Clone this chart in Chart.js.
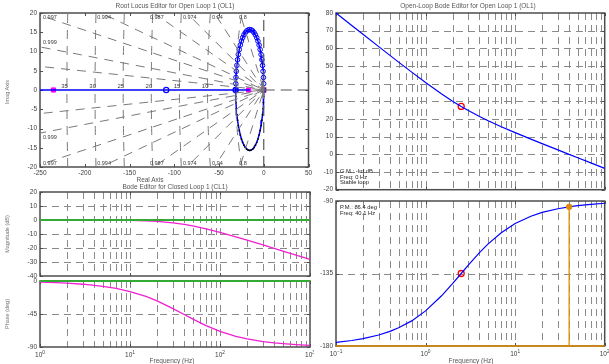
<!DOCTYPE html>
<html><head><meta charset="utf-8">
<script src="https://cdn.jsdelivr.net/npm/chart.js@4.4.1/dist/chart.umd.min.js"></script>
<style>
html,body{margin:0;padding:0;background:#fff;width:609px;height:364px;overflow:hidden;position:relative;}
canvas{position:absolute;}
.t{position:absolute;font-family:"Liberation Sans",Arial,sans-serif;font-size:6.5px;color:#555;white-space:nowrap;line-height:1;transform:translate(-50%,-50%);}
.l{position:absolute;font-family:"Liberation Sans",Arial,sans-serif;font-size:5.8px;color:#222;white-space:nowrap;line-height:1;transform:translate(0,-50%);}
.r{position:absolute;font-family:"Liberation Sans",Arial,sans-serif;font-size:5.5px;color:#777;white-space:nowrap;line-height:1;transform:translate(-50%,-50%) rotate(-90deg);}
</style></head><body>
<script>
// ---------- Root locus data ----------
const rlRealTicks = [-250,-200,-150,-100,-50,0,50];
const rlImagTicks = [-20,-15,-10,-5,0,5,10,15,20];
const dampingGrid = [0.9997,0.999,0.997,0.994,0.987,0.974,0.94,0.8];
const dampingLabels = [0.999,0.997,0.994,0.987,0.974,0.94,0.8];
const dampingShort = [0.1,0.2,0.3,0.4,0.5,0.6,0.7];
const natFreqHz = [5,10,15,20,25,30,35];
const natFreqLabels = [10,15,20,25,30,35];
const locusRe = [0,-0.09,-0.34,-0.77,-1.36,-2.10,-3.00,-4.03,-5.20,-6.47,-7.85,-9.32,-10.85,-12.44,-14.06,-15.70,-17.34,-18.96,-20.55,-22.09,-23.55,-24.93,-26.21,-27.37,-28.40,-29.30,-30.04,-30.63,-31.06,-31.31,-31.40];
const locusImUp = [0,1.64,3.26,4.85,6.39,7.85,9.23,10.50,11.67,12.70,13.60,14.34,14.93,15.36,15.61,15.70,15.61,15.36,14.93,14.34,13.60,12.70,11.67,10.50,9.23,7.85,6.39,4.85,3.26,1.64,0];
const locusImLow = [0,-1.64,-3.26,-4.85,-6.39,-7.85,-9.23,-10.50,-11.67,-12.70,-13.60,-14.34,-14.93,-15.36,-15.61,-15.70,-15.61,-15.36,-14.93,-14.34,-13.60,-12.70,-11.67,-10.50,-9.23,-7.85,-6.39,-4.85,-3.26,-1.64,0];
const locusRealRe = [-260,-31.4,-15.7];
const clPoleRe = [-235,-16.8];
const olPoleRe = [0];
const compZeroRe = [-109,-31.4];

// ---------- Closed-loop Bode data ----------
const clFreq = [1,1.5,2,3,4,5,7,10,15,20,30,40,50,70,100,150,200,300,400,500,700,1000];
const clMag = [0,-0.01,-0.01,-0.03,-0.05,-0.07,-0.14,-0.28,-0.60,-1.01,-2.02,-3.12,-4.22,-6.26,-8.79,-11.99,-14.36,-17.80,-20.26,-22.18,-25.10,-28.20];
const clPhase = [-1.5,-2.2,-2.9,-4.4,-5.9,-7.3,-10.2,-14.4,-21.0,-27.2,-37.6,-45.7,-52.0,-60.9,-68.7,-75.4,-79.0,-82.6,-84.4,-85.5,-86.8,-87.8];
const clRefFreq = [1,1000];
const clRefMag = [0,0];
const clRefPhase = [0,0];
const clMagTicks = [-40,-30,-20,-10,0,10,20];
const clPhaseTicks = [-90,-45,0];
const clDecades = [1,10,100,1000];

// ---------- Open-loop Bode data ----------
const olFreq = [0.1,0.15,0.2,0.3,0.4,0.5,0.7,1,1.5,2,2.5,3,4,5,7,10,15,20,30,40,50,70,100];
const olMag = [80.0,72.97,67.99,60.98,56.03,52.21,46.53,40.64,34.30,30.11,27.09,24.79,21.43,19.03,15.66,12.30,8.64,6.09,2.53,0.02,-1.93,-4.85,-7.96];
const olPhase = [-177.7,-176.6,-175.4,-173.2,-170.9,-168.7,-164.4,-158.2,-149.0,-141.3,-135.0,-129.8,-122.0,-116.6,-109.7,-104.0,-99.5,-97.1,-94.8,-93.6,-92.9,-92.1,-91.4];
const zeroMarkFreq = [2.5];
const zeroMarkMag = [27.1];
const zeroMarkPhase = [-135];
const pmFreq = [40.1,40.1];
const pmPhase = [-180,-93.6];
const pmBaseFreq = [0.1,100];
const pmBasePhase = [-180,-180];
const olMagTicks = [-20,-10,0,10,20,30,40,50,60,70,80];
const olPhaseTicks = [-180,-135,-90];
const olDecades = [0.1,1,10,100];

// ---------- helpers ----------
const FONT = '"Liberation Sans", Arial, sans-serif';
const pts = (xs, ys) => xs.map((x, i) => ({x, y: ys[i]}));
const logGrid = decs => { const out = []; for (let i = 0; i < decs.length - 1; i++) for (let k = 1; k < 10; k++) out.push(decs[i] * k); out.push(decs[decs.length - 1]); return out; };

function deco(o) {
  return {
    id: 'deco',
    beforeDatasetsDraw(chart) {
      const {ctx, chartArea: a, scales: {x, y}} = chart;
      ctx.save();
      ctx.strokeStyle = '#8a8a8a'; ctx.lineWidth = 1; ctx.setLineDash(o.dash || [7, 5]);
      (o.vx || []).forEach(v => {
        const px = Math.round(x.getPixelForValue(v)) + 0.5;
        if (px <= a.left + 1 || px >= a.right - 1) return;
        ctx.beginPath(); ctx.moveTo(px, a.top); ctx.lineTo(px, a.bottom); ctx.stroke();
      });
      (o.hy || []).forEach(v => {
        const py = Math.round(y.getPixelForValue(v)) + 0.5;
        if (py <= a.top + 1 || py >= a.bottom - 1) return;
        ctx.beginPath(); ctx.moveTo(a.left, py); ctx.lineTo(a.right, py); ctx.stroke();
      });
      ctx.setLineDash([]);
      ctx.strokeStyle = '#4d4d4d'; ctx.lineWidth = 1.5;
      ctx.strokeRect(a.left, a.top, a.right - a.left, a.bottom - a.top);
      ctx.lineWidth = 1;
      (o.tx || []).forEach(v => {
        const px = Math.round(x.getPixelForValue(v)) + 0.5;
        ctx.beginPath(); ctx.moveTo(px, a.bottom); ctx.lineTo(px, a.bottom - 3);
        ctx.moveTo(px, a.top); ctx.lineTo(px, a.top + 3); ctx.stroke();
      });
      (o.ty || []).forEach(v => {
        const py = Math.round(y.getPixelForValue(v)) + 0.5;
        ctx.beginPath(); ctx.moveTo(a.left, py); ctx.lineTo(a.left + 3, py);
        ctx.moveTo(a.right, py); ctx.lineTo(a.right - 3, py); ctx.stroke();
      });
      ctx.restore();
    },
    afterDatasetsDraw(chart) {
      const {ctx, chartArea: a, scales: {x, y}} = chart;
      if (o.logLabels) {
        ctx.save(); ctx.fillStyle = '#404040'; ctx.textBaseline = 'middle';
        o.logLabels.forEach(v => {
          const e = Math.round(Math.log10(v));
          const px = x.getPixelForValue(v);
          ctx.font = '6.5px ' + FONT; const w1 = ctx.measureText('10').width;
          ctx.font = '4.8px ' + FONT; const es = String(e).replace('-', '\u2212'); const w2 = ctx.measureText(es).width;
          const x0 = px - (w1 + w2) / 2;
          ctx.font = '6.5px ' + FONT; ctx.textAlign = 'left';
          ctx.fillText('10', x0, a.bottom + 8);
          ctx.font = '4.8px ' + FONT;
          ctx.fillText(es, x0 + w1, a.bottom + 5.5);
        });
        ctx.restore();
      }
      if (o.rl) {
        ctx.save(); ctx.fillStyle = '#3a3a3a'; ctx.textBaseline = 'middle';
        ctx.font = '5.5px ' + FONT;
        dampingLabels.forEach(z => {
          const s = Math.sqrt(1 - z * z) / z;
          const reTop = -y.max / s;
          const txt = String(z);
          if (reTop >= x.min) {
            ctx.textAlign = 'center';
            const px = x.getPixelForValue(reTop) + 3;
            ctx.fillText(txt, px, a.top + 4);
            ctx.fillText(txt, px, a.bottom - 4);
          } else {
            ctx.textAlign = 'left';
            const im = -x.min * s;
            ctx.fillText(txt, a.left + 3, Math.max(y.getPixelForValue(im) - 4, a.top + 4));
            ctx.fillText(txt, a.left + 3, Math.min(y.getPixelForValue(-im) + 4, a.bottom - 4));
          }
        });
        ctx.font = '6px ' + FONT; ctx.textAlign = 'right';
        natFreqLabels.forEach(f => {
          const r = 2 * Math.PI * f;
          ctx.fillText(String(f), x.getPixelForValue(-r) + 1, y.getPixelForValue(0) - 4);
        });
        ctx.restore();
      }
    }
  };
}

function makeChart(area, xs, ys, datasets, o, xH) {
  const padT = 6, padR = 4, yW = 40;
  const W = area.r - area.l + yW + padR, H = area.b - area.t + padT + xH;
  const c = document.createElement('canvas');
  c.width = W; c.height = H;
  c.style.left = (area.l - yW) + 'px'; c.style.top = (area.t - padT) + 'px';
  c.style.width = W + 'px'; c.style.height = H + 'px';
  document.body.appendChild(c);
  const tickFont = {family: FONT, size: 6.5};
  return new Chart(c, {
    type: 'scatter',
    data: {datasets},
    options: {
      responsive: false, animation: false, devicePixelRatio: 1, events: [],
      layout: {padding: {top: padT, right: padR, left: 0, bottom: 0}},
      plugins: {legend: {display: false}, tooltip: {enabled: false}, title: {display: false}},
      scales: {
        x: Object.assign({
          grid: {display: false, drawTicks: false}, border: {display: false},
          ticks: {font: tickFont, color: '#404040', padding: 2, autoSkip: false, maxRotation: 0, minRotation: 0},
          afterFit(s) { s.height = xH; s.paddingLeft = 0; s.paddingRight = 0; }
        }, xs),
        y: Object.assign({
          grid: {display: false, drawTicks: false}, border: {display: false},
          ticks: {font: tickFont, color: '#404040', padding: 3, autoSkip: false},
          afterFit(s) { s.width = yW; s.paddingTop = 0; s.paddingBottom = 0; }
        }, ys)
      }
    },
    plugins: [deco(o)]
  });
}
const setTicks = arr => function (s) { s.ticks = arr.map(v => ({value: v})); };
const line = (data, color, w, extra) => Object.assign({data, showLine: true, borderColor: color, borderWidth: w, pointRadius: 0, fill: false, tension: 0}, extra || {});

// ---------- Root locus ----------
const rlDs = [];
const gridCol = '#7a7a7a';
dampingGrid.forEach(z => {
  const t = 600, a = -t * z, b = t * Math.sqrt(1 - z * z);
  rlDs.push(line([{x: a, y: b}, {x: 0, y: 0}, {x: a, y: -b}], gridCol, 1, {borderDash: [9, 7]}));
});
dampingShort.forEach(z => {
  const t = 2.2, a = -t * z, b = t * Math.sqrt(1 - z * z);
  rlDs.push(line([{x: a, y: b}, {x: 0, y: 0}, {x: a, y: -b}], gridCol, 1, {borderDash: [2, 1]}));
});
natFreqHz.forEach(f => {
  const r = 2 * Math.PI * f, d = [];
  for (let i = 0; i <= 40; i++) { const im = -20 + i; d.push({x: -Math.sqrt(Math.max(r * r - im * im, 0)), y: im}); }
  rlDs.push(line(d, gridCol, 1, {borderDash: [9, 7]}));
});
rlDs.push(line([{x: 0, y: -20}, {x: 0, y: 20}], '#555', 1.2, {borderDash: [11, 6]}));
rlDs.push(line([{x: 0, y: 0}, {x: 50, y: 0}], '#555', 1.2, {borderDash: [11, 6]}));
rlDs.push(line(locusRealRe.map(v => ({x: v, y: 0})), '#0000ff', 1.5));
rlDs.push(line(pts(locusRe, locusImLow), '#0000ff', 1.5, {pointRadius: 0.9, pointBackgroundColor: '#000', pointBorderColor: '#000', pointBorderWidth: 0}));
rlDs.push(line(pts(locusRe, locusImUp), '#0000ff', 1.5, {pointRadius: 2.3, pointBackgroundColor: 'rgba(0,0,0,0)', pointBorderColor: '#0000ff', pointBorderWidth: 1}));
rlDs.push({data: compZeroRe.map(v => ({x: v, y: 0})), pointRadius: 2.6, pointBackgroundColor: 'rgba(0,0,0,0)', pointBorderColor: '#0000ff', pointBorderWidth: 1.2, showLine: false});
rlDs.push({data: clPoleRe.map(v => ({x: v, y: 0})), pointStyle: 'rect', pointRadius: 3, pointBackgroundColor: '#ff00ff', pointBorderColor: '#ff00ff', showLine: false});
rlDs.push({data: olPoleRe.map(v => ({x: v, y: 0})), pointStyle: 'crossRot', pointRadius: 3.5, pointBorderColor: '#ff0000', pointBorderWidth: 1.5, showLine: false});

makeChart({l: 40, t: 13, r: 310, b: 167},
  {type: 'linear', min: -250, max: 50, afterBuildTicks: setTicks(rlRealTicks)},
  {type: 'linear', min: -20, max: 20, afterBuildTicks: setTicks(rlImagTicks)},
  rlDs, {rl: true, tx: rlRealTicks, ty: rlImagTicks}, 12);

// ---------- Closed loop Bode ----------
const clGrid = logGrid(clDecades);
makeChart({l: 40, t: 192, r: 310, b: 276},
  {type: 'logarithmic', min: 1, max: 1000, afterBuildTicks: setTicks(clGrid), ticks: {display: false}},
  {type: 'linear', min: -40, max: 20, afterBuildTicks: setTicks(clMagTicks)},
  [line(pts(clRefFreq, clRefMag), '#33aa33', 1.8, {clip: 3}), line(pts(clFreq, clMag), '#f020d0', 1.3, {clip: 3})],
  {vx: clGrid, hy: clMagTicks, tx: clDecades, ty: clMagTicks}, 2);
makeChart({l: 40, t: 281, r: 310, b: 347},
  {type: 'logarithmic', min: 1, max: 1000, afterBuildTicks: setTicks(clGrid), ticks: {display: false}},
  {type: 'linear', min: -90, max: 0, afterBuildTicks: setTicks(clPhaseTicks)},
  [line(pts(clRefFreq, clRefPhase), '#33aa33', 1.8, {clip: 3}), line(pts(clFreq, clPhase), '#f020d0', 1.3, {clip: 3})],
  {vx: clGrid, hy: clPhaseTicks, tx: clDecades, ty: clPhaseTicks, logLabels: clDecades}, 16);

// ---------- Open loop Bode ----------
const olGrid = logGrid(olDecades);
makeChart({l: 336, t: 13, r: 606, b: 193},
  {type: 'logarithmic', min: 0.1, max: 100, afterBuildTicks: setTicks(olGrid), ticks: {display: false}},
  {type: 'linear', min: -20, max: 80, afterBuildTicks: setTicks(olMagTicks)},
  [line(pts(olFreq, olMag), '#0000ff', 1.2, {clip: 3}),
   {data: pts(zeroMarkFreq, zeroMarkMag), pointRadius: 3, pointBackgroundColor: 'rgba(0,0,0,0)', pointBorderColor: '#ff0000', pointBorderWidth: 1.3, showLine: false}],
  {vx: olGrid, hy: olMagTicks, tx: olDecades, ty: olMagTicks}, 2);
makeChart({l: 336, t: 201, r: 606, b: 346},
  {type: 'logarithmic', min: 0.1, max: 100, afterBuildTicks: setTicks(olGrid), ticks: {display: false}},
  {type: 'linear', min: -180, max: -90, afterBuildTicks: setTicks(olPhaseTicks)},
  [line(pts(pmBaseFreq, pmBasePhase), '#e08c00', 1.6, {clip: 3}),
   line(pts(pmFreq, pmPhase), '#e08c00', 1.3, {clip: 3}),
   {data: [{x: pmFreq[1], y: pmPhase[1]}], pointRadius: 2.8, pointBackgroundColor: '#d98a10', pointBorderColor: '#d98a10', showLine: false},
   line(pts(olFreq, olPhase), '#0000ff', 1.2, {clip: 3}),
   {data: pts(zeroMarkFreq, zeroMarkPhase), pointRadius: 3, pointBackgroundColor: 'rgba(0,0,0,0)', pointBorderColor: '#ff0000', pointBorderWidth: 1.3, showLine: false}],
  {vx: olGrid, hy: olPhaseTicks, tx: olDecades, ty: olPhaseTicks, logLabels: olDecades}, 16);

// ---------- Texts ----------
function addText(cls, s, x, y) { const d = document.createElement('div'); d.className = cls; d.textContent = s; d.style.left = x + 'px'; d.style.top = y + 'px'; document.body.appendChild(d); }
addText('t', 'Root Locus Editor for Open Loop 1 (OL1)', 175, 6);
addText('t', 'Real Axis', 150, 180);
addText('t', 'Bode Editor for Closed Loop 1 (CL1)', 175, 187);
addText('t', 'Frequency (Hz)', 172, 361);
addText('t', 'Open-Loop Bode Editor for Open Loop 1 (OL1)', 468, 6);
addText('t', 'Frequency (Hz)', 471, 361);
addText('r', 'Imag Axis', 8, 92);
addText('r', 'Magnitude (dB)', 8, 234);
addText('r', 'Phase (deg)', 8, 314);
addText('l', 'G.M.: -Inf dB', 340, 172);
addText('l', 'Freq: 0 Hz', 340, 177.5);
addText('l', 'Stable loop', 340, 183);
addText('l', 'P.M.: 86.4 deg', 340, 208);
addText('l', 'Freq: 40.1 Hz', 340, 213.5);
</script>
</body></html>
